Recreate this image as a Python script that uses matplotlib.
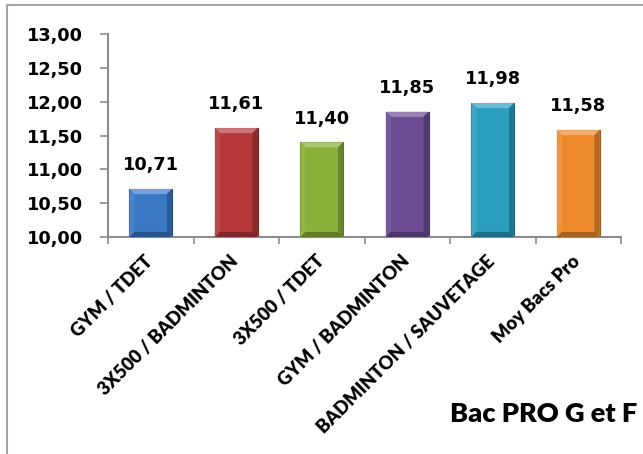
import numpy as np
import matplotlib
matplotlib.use("Agg")
import matplotlib.pyplot as plt
import matplotlib.colors as mcolors
import matplotlib.transforms as mtransforms
from matplotlib.patches import Polygon
from matplotlib.lines import Line2D

# données
categories = ["GYM / TDET", "3X500 / BADMINTON", "3X500 / TDET",
              "GYM / BADMINTON", "BADMINTON / SAUVETAGE", "Moy Bacs Pro"]
moyennes = [10.71, 11.61, 11.40, 11.85, 11.98, 11.58]
couleurs = ["#3A78C4", "#B5383A", "#8AB03A", "#6B4C93", "#2B9EBE", "#EE8A2E"]
y_ticks = [10.0, 10.5, 11.0, 11.5, 12.0, 12.5, 13.0]
titre = "Bac PRO G et F"

W, H = 643, 454
fig = plt.figure(figsize=(W / 100, H / 100), dpi=100)
ax = fig.add_axes([108 / W, 1 - 237 / H, (621 - 108) / W, (237 - 34) / H])

gris = "#8C8C8C"
bar_w = 0.5
bx, by = 0.06, 0.075  # taille du biseau


def melange(c, autre, t):
    c = np.array(mcolors.to_rgb(c))
    autre = np.array(mcolors.to_rgb(autre))
    return tuple(c * (1 - t) + autre * t)


def barre_biseau(ax, x, top, bottom, couleur):
    x0, x1 = x - bar_w / 2, x + bar_w / 2
    ax.add_patch(Polygon([(x0, bottom), (x1, bottom), (x1, top), (x0, top)],
                         closed=True, fc=couleur, ec=melange(couleur, "black", 0.35), lw=0.8, zorder=2))
    # haut clair
    ax.add_patch(Polygon([(x0, top), (x1, top), (x1 - bx, top - by), (x0 + bx, top - by)],
                         closed=True, fc=melange(couleur, "white", 0.3), ec="none", zorder=3))
    # gauche
    ax.add_patch(Polygon([(x0, bottom), (x0, top), (x0 + bx, top - by), (x0 + bx, bottom + by)],
                         closed=True, fc=melange(couleur, "white", 0.08), ec="none", zorder=3))
    # droite sombre
    ax.add_patch(Polygon([(x1, bottom), (x1, top), (x1 - bx, top - by), (x1 - bx, bottom + by)],
                         closed=True, fc=melange(couleur, "black", 0.25), ec="none", zorder=3))
    # bas sombre
    ax.add_patch(Polygon([(x0, bottom), (x1, bottom), (x1 - bx, bottom + by), (x0 + bx, bottom + by)],
                         closed=True, fc=melange(couleur, "black", 0.3), ec="none", zorder=3))


x = np.arange(len(categories))
for xi, v, c in zip(x, moyennes, couleurs):
    barre_biseau(ax, xi, v, y_ticks[0], c)
    ax.annotate(f"{v:.2f}".replace(".", ","), (xi, v), xytext=(0, 13.5),
                textcoords="offset points", ha="center", va="baseline",
                fontsize=12.8, fontweight="bold", family="DejaVu Sans")

ax.set_xlim(-0.5, len(categories) - 0.5)
ax.set_ylim(y_ticks[0], y_ticks[-1])

ax.set_yticks(y_ticks)
ax.set_yticklabels([f"{t:.2f}".replace(".", ",") for t in y_ticks],
                   fontsize=12.8, fontweight="bold", family="DejaVu Sans")
ax.tick_params(axis="y", length=6, width=1.2, color=gris, pad=12)

ax.set_xticks(x)
ax.set_xticklabels(categories, rotation=45, ha="right", va="top",
                   fontsize=13.2, fontweight="heavy", family="Lato")
ax.tick_params(axis="x", which="major", length=0, pad=11)
ax.set_xticks(np.arange(-0.5, len(categories)), minor=True)
ax.tick_params(axis="x", which="minor", length=5, width=1.2, color=gris)

# petit décalage vers la droite des étiquettes
decalage = mtransforms.ScaledTranslation(4 / 72, 0, fig.dpi_scale_trans)
for lab in ax.get_xticklabels():
    lab.set_transform(lab.get_transform() + decalage)

for s in ["top", "right"]:
    ax.spines[s].set_visible(False)
for s in ["left", "bottom"]:
    ax.spines[s].set_color(gris)
    ax.spines[s].set_linewidth(1.5)

fig.text(637 / W, 1 - 422 / H, titre, ha="right", va="baseline",
         fontsize=19.5, fontweight="heavy", family="Lato")

# cadre du graphique
bord = "#A6A6A6"
fig.add_artist(Line2D([6.5 / W, 6.5 / W, 1.0], [0.0, 1 - 4.5 / H, 1 - 4.5 / H],
                      transform=fig.transFigure, color=bord, lw=1.5))

fig.savefig("out.png", dpi=100)
